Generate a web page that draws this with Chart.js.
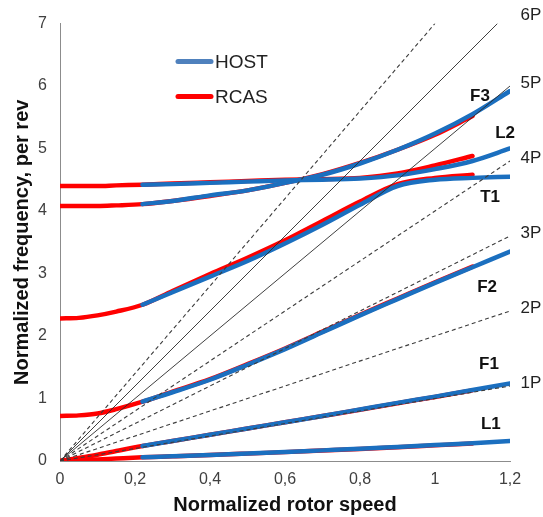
<!DOCTYPE html>
<html>
<head>
<meta charset="utf-8">
<script src="https://cdn.jsdelivr.net/npm/chart.js@4/dist/chart.umd.min.js"></script>
<style>
  html, body { margin: 0; padding: 0; background: #fff; }
  #wrap { width: 543px; height: 517px; position: relative; }
</style>
</head>
<body>
<div id="wrap"><canvas id="c"></canvas></div>
<script>
// ---- Data ----
const hostSpeed = [0.22, 0.3, 0.4, 0.5, 0.6, 0.7, 0.8, 0.9, 1.0, 1.1, 1.2];
const rcasSpeed = [0, 0.05, 0.1, 0.15, 0.22, 0.3, 0.4, 0.5, 0.6, 0.7, 0.8, 0.9, 1.0, 1.1];

const hostL1 = [0.06, 0.075, 0.095, 0.12, 0.145, 0.17, 0.195, 0.225, 0.255, 0.285, 0.32];
const rcasL1 = [0, 0.012, 0.025, 0.04, 0.06, 0.075, 0.095, 0.118, 0.142, 0.167, 0.192, 0.22, 0.25, 0.28];
const hostF1 = [0.24, 0.32, 0.42, 0.52, 0.62, 0.72, 0.825, 0.93, 1.03, 1.135, 1.24];
const rcasF1 = [0, 0.05, 0.1, 0.16, 0.24, 0.32, 0.42, 0.52, 0.62, 0.72, 0.82, 0.925, 1.025, 1.13];
const hostF2 = [0.95, 1.1, 1.3, 1.54, 1.79, 2.06, 2.33, 2.59, 2.85, 3.1, 3.35];
const rcasF2 = [0.72, 0.73, 0.76, 0.83, 0.95, 1.11, 1.31, 1.55, 1.8, 2.07, 2.34, 2.6, 2.86, 3.11];
const hostT1 = [2.5, 2.7, 2.95, 3.2, 3.48, 3.78, 4.1, 4.4, 4.5, 4.53, 4.55];
const rcasT1 = [2.28, 2.29, 2.33, 2.39, 2.5, 2.72, 2.99, 3.25, 3.53, 3.84, 4.15, 4.43, 4.53, 4.58];
const hostF3 = [4.11, 4.16, 4.25, 4.33, 4.45, 4.58, 4.76, 4.98, 5.24, 5.55, 5.92];
const rcasF3 = [4.08, 4.08, 4.08, 4.09, 4.11, 4.16, 4.24, 4.33, 4.45, 4.59, 4.77, 4.98, 5.22, 5.52];
const hostL2 = [4.42, 4.43, 4.45, 4.47, 4.49, 4.5, 4.52, 4.57, 4.67, 4.8, 5.0];
const rcasL2 = [4.4, 4.4, 4.4, 4.41, 4.42, 4.44, 4.46, 4.48, 4.5, 4.51, 4.53, 4.6, 4.73, 4.88];

const harmonics = [1, 2, 3, 4, 5, 6, 7];
const solidHarmonics = [5, 6];
const harmonicLabels = ['1P', '2P', '3P', '4P', '5P', '6P'];

const modeNames = ['F3', 'L2', 'T1', 'F2', 'F1', 'L1'];
const xTicks = [0, 0.2, 0.4, 0.6, 0.8, 1, 1.2];
const yTicks = [0, 1, 2, 3, 4, 5, 6, 7];
const X_MAX = 1.2, Y_MAX = 7;

// ---- Styles ----
const FONT = "'Liberation Sans', Arial, sans-serif";
const BLUE = '#1b6fbf';
const BLUE_LEGEND = '#4f81bd';
const RED = '#ff0000';

// label anchor positions (data space) for mode names
const modeLabelPos = {
  F3: [1.12, 5.84], L2: [1.187, 5.25], T1: [1.147, 4.22],
  F2: [1.139, 2.78], F1: [1.144, 1.54], L1: [1.149, 0.58]
};

const zip = (xs, ys) => xs.map((x, i) => ({ x, y: ys[i] }));

const datasets = [];
// harmonic (nP) reference lines
harmonics.forEach(k => {
  const xe = Math.min(X_MAX, Y_MAX / k);
  const solid = solidHarmonics.includes(k);
  datasets.push({
    label: k + 'P', kind: 'harm',
    data: [{ x: 0, y: 0 }, { x: xe, y: k * xe }],
    borderColor: solid ? '#2a2a2a' : '#3c3c3c',
    borderWidth: solid ? 0.9 : 1.1,
    borderDash: solid ? [] : [4, 3],
    pointRadius: 0, showLine: true, order: 0
  });
});
const hostModes = [hostL1, hostF1, hostF2, hostT1, hostF3, hostL2];
const rcasModes = [rcasL1, rcasF1, rcasF2, rcasT1, rcasF3, rcasL2];
rcasModes.forEach((arr, i) => datasets.push({
  label: 'RCAS', kind: 'rcas', data: zip(rcasSpeed, arr),
  borderColor: RED, borderWidth: 4.5, pointRadius: 0, showLine: true,
  cubicInterpolationMode: 'monotone', order: 2, borderCapStyle: 'round'
}));
hostModes.forEach((arr, i) => datasets.push({
  label: 'HOST', kind: 'host', data: zip(hostSpeed, arr),
  borderColor: BLUE, borderWidth: 4.5, pointRadius: 0, showLine: true,
  cubicInterpolationMode: 'monotone', order: 1, borderCapStyle: 'round'
}));

const annotPlugin = {
  id: 'annot',
  afterDraw(chart) {
    const { ctx, scales: { x, y } } = chart;
    ctx.save();
    // mode names
    ctx.fillStyle = '#111';
    ctx.font = 'bold 17px ' + FONT;
    ctx.textAlign = 'center';
    ctx.textBaseline = 'middle';
    modeNames.forEach(n => {
      const p = modeLabelPos[n];
      ctx.fillText(n, x.getPixelForValue(p[0]), y.getPixelForValue(p[1]));
    });
    // harmonic labels
    ctx.font = '17px ' + FONT;
    ctx.fillStyle = '#222';
    harmonicLabels.forEach((t, i) => {
      const k = i + 1;
      const py = Math.max(15, y.getPixelForValue(k * X_MAX) - 3);
      ctx.fillText(t, x.getPixelForValue(X_MAX) + 21, py);
    });
    // legend
    const legend = [['HOST', BLUE_LEGEND, 61.5], ['RCAS', RED, 96.5]];
    legend.forEach(([t, c, ly]) => {
      ctx.strokeStyle = c;
      ctx.lineWidth = 5;
      ctx.lineCap = 'round';
      ctx.beginPath();
      ctx.moveTo(178, ly); ctx.lineTo(211, ly);
      ctx.stroke();
      ctx.fillStyle = '#222';
      ctx.font = '19px ' + FONT;
      ctx.textAlign = 'left';
      ctx.fillText(t, 215, ly + 1);
    });
    ctx.restore();
  }
};

const fmt = v => {
  const r = Math.round(v * 10) / 10;
  return String(r).replace('.', ',');
};

new Chart(document.getElementById('c'), {
  type: 'scatter',
  data: { datasets },
  plugins: [annotPlugin],
  options: {
    responsive: true,
    maintainAspectRatio: false,
    animation: false,
    events: [],
    layout: { padding: { left: 0, right: 33, top: 23.5, bottom: 0 } },
    plugins: { legend: { display: false }, tooltip: { enabled: false } },
    scales: {
      x: {
        type: 'linear', min: 0, max: X_MAX,
        afterBuildTicks: s => { s.ticks = xTicks.map(v => ({ value: v })); },
        afterFit: s => { s.height = 56; },
        grid: { display: false, drawTicks: false },
        border: { display: true, color: '#8c8c8c', width: 1 },
        ticks: { callback: v => fmt(v), color: '#404040', font: { family: FONT, size: 16 }, padding: 9, maxRotation: 0 },
        title: { display: true, text: 'Normalized rotor speed', color: '#111', font: { family: FONT, size: 20, weight: 'bold' }, padding: { top: 0, bottom: 0 } }
      },
      y: {
        type: 'linear', min: 0, max: Y_MAX,
        afterBuildTicks: s => { s.ticks = yTicks.map(v => ({ value: v })); },
        afterFit: s => { s.width = 60; },
        grid: { display: false, drawTicks: false },
        border: { display: true, color: '#8c8c8c', width: 1 },
        ticks: { callback: v => String(v), color: '#404040', font: { family: FONT, size: 16 }, padding: 13 },
        title: { display: true, text: 'Normalized frequency, per rev', color: '#111', font: { family: FONT, size: 20, weight: 'bold' }, padding: { top: 10, bottom: 0 } }
      }
    }
  }
});
</script>
</body>
</html>
